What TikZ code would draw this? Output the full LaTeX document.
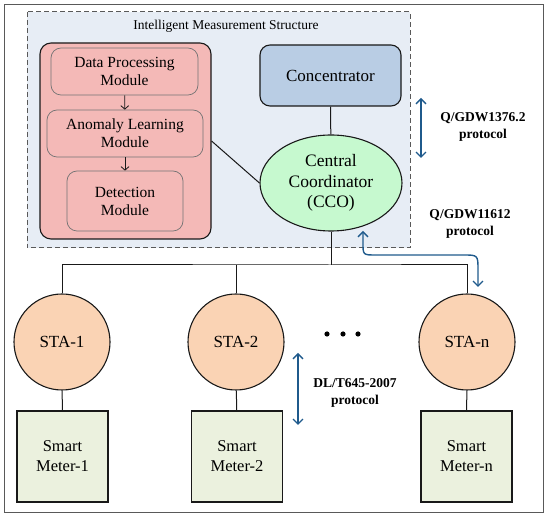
\documentclass[tikz,border=0pt]{standalone}
\usepackage{fontspec}
\setmainfont{Liberation Serif}
\usetikzlibrary{shapes.geometric,arrows.meta}
\definecolor{bgblue}{HTML}{E7EDF5}
\definecolor{pinkf}{HTML}{F4B9B7}
\definecolor{concf}{HTML}{B9CDE4}
\definecolor{ccof}{HTML}{C6F9CF}
\definecolor{staf}{HTML}{FAD3B4}
\definecolor{smf}{HTML}{EBF1DE}
\definecolor{arrblue}{HTML}{1F5A8C}
\tikzset{
  box/.style={draw=black!90, line width=1.1pt, fill=pinkf, rounded corners=11pt, align=center, inner sep=0pt},
  modbox/.style={draw=black!55, line width=0.7pt, fill=pinkf, rounded corners=10pt, align=center, inner sep=0pt, font=\fontsize{15.5}{18}\selectfont},
  stanode/.style={circle, draw=black!90, line width=1.1pt, fill=staf, minimum size=96pt, inner sep=0pt, font=\fontsize{17}{20}\selectfont},
  smnode/.style={draw=black!90, line width=1.1pt, fill=smf, minimum width=91pt, minimum height=91pt, align=center, inner sep=0pt, font=\fontsize{16.5}{20}\selectfont},
  conn/.style={draw=black!90, line width=1pt},
  protoarrow/.style={draw=arrblue, line width=1.4pt, {Straight Barb[length=5pt,width=10pt]}-{Straight Barb[length=5pt,width=10pt]}},
  protolabel/.style={font=\bfseries\fontsize{13.5}{17}\selectfont, align=center, inner sep=0pt},
}
\begin{document}
\begin{tikzpicture}[x=1pt,y=-1pt]
\useasboundingbox (0,0) rectangle (550,518);
% outer frame
\draw[draw=black!65, line width=1pt] (4,5) rectangle (543,513);
% dashed region
\draw[draw=black!65, fill=bgblue, line width=1pt, dash pattern=on 5pt off 3pt] (27,12) rectangle (410,248);
\node[font=\fontsize{13.5}{16}\selectfont, inner sep=0pt] (title) at (226,26) {Intelligent Measurement Structure};
% pink group
\node[box, minimum width=171pt, minimum height=196pt] (grp) at (125.5,141) {};
\node[modbox, minimum width=147pt, minimum height=47pt] (dp) at (124.5,71.5) {Data Processing\\Module};
\node[modbox, minimum width=156pt, minimum height=47pt] (al) at (125,133.5) {Anomaly Learning\\Module};
\node[modbox, minimum width=116pt, minimum height=60pt] (dm) at (125,201) {Detection\\Module};
\draw[conn, line width=0.8pt, -{Straight Barb[length=3.5pt,width=8pt]}] (dp) -- (al);
\draw[conn, line width=0.8pt, -{Straight Barb[length=3.5pt,width=8pt]}] (al) -- (dm);
% concentrator and CCO
\node[box, fill=concf, rounded corners=10pt, minimum width=141pt, minimum height=61pt, font=\fontsize{17}{20}\selectfont] (conc) at (330.5,75.5) {Concentrator};
\node[ellipse, draw=black!90, line width=1.1pt, fill=ccof, minimum width=142pt, minimum height=96pt, inner sep=0pt, align=center, font=\fontsize{17.5}{20.5}\selectfont] (cco) at (331,183) {Central\\Coordinator\\(CCO)};
\draw[conn] (conc) -- (cco);
\draw[conn] (grp.east) -- (cco.west);
% stations
\node[stanode] (sta1) at (62,342) {STA-1};
\node[stanode] (sta2) at (236,342) {STA-2};
\node[stanode] (stan) at (467,342) {STA-n};
\fill (327,334) circle (2.6pt) (343,334) circle (2.6pt) (358,334) circle (2.6pt);
\coordinate (busc) at (331,265);
\draw[conn] (cco.south) -- (busc);
\draw[conn] (sta1.north) |- (busc) -| (stan.north);
\draw[conn] (sta2.north) -- (sta2.north |- busc);
% meters
\node[smnode] (sm1) at (62.5,456.5) {Smart\\Meter-1};
\node[smnode] (sm2) at (237,456.5) {Smart\\Meter-2};
\node[smnode] (smn) at (466.5,456.5) {Smart\\Meter-n};
\draw[conn] (sta1) -- (sm1);
\draw[conn] (sta2) -- (sm2);
\draw[conn] (stan) -- (smn);
% protocols
\coordinate (p1a) at (421,98);
\coordinate (p1b) at (421,158);
\draw[protoarrow] (p1a) -- (p1b);
\node[protolabel] (l1) at (483,127) {Q/GDW1376.2\\protocol};
\node[protolabel] (l2) at (470,224) {Q/GDW11612\\protocol};
\coordinate (p2a) at (363,231);
\coordinate (p2b) at (478,287);
\draw[protoarrow] (p2a) -- (363,243) .. controls (363,255) .. (376,255) -- (463,255) .. controls (478,255) .. (478,270) -- (p2b);
\coordinate (p3a) at (298,353);
\coordinate (p3b) at (298,425);
\draw[protoarrow] (p3a) -- (p3b);
\node[protolabel] (l3) at (355,393) {DL/T645-2007\\protocol};
\end{tikzpicture}
\end{document}
